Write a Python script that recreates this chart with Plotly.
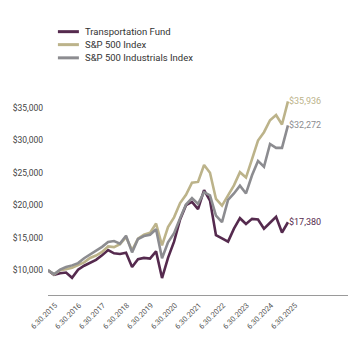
import pandas as pd
import plotly.graph_objects as go

# Quarter-end valuation dates, 6/30/2015 through 6/30/2025
quarter_ends = pd.date_range("2015-06-30", "2025-06-30", freq="QE").strftime("%Y-%m-%d").tolist()

# Growth of a $10,000 investment
transportation_fund = [
    10000, 9300, 9550, 9650, 8850, 10100, 10700, 11100, 11600, 12300,
    13100, 12600, 12500, 12700, 10500, 11700, 11900, 11800, 12900, 8800,
    11900, 14400, 17800, 20000, 20500, 19400, 22300, 20700, 15400, 14900,
    14400, 16400, 18000, 17100, 17900, 17800, 16400, 17300, 18200, 15800,
    17380,
]
sp500_index = [
    10000, 9360, 10020, 10150, 10400, 10800, 11210, 11890, 12260, 12810,
    13660, 13560, 14020, 15100, 13060, 14850, 15480, 15750, 17180, 13810,
    16640, 18130, 20330, 21590, 23440, 23570, 26170, 24970, 20950, 19930,
    21430, 23040, 25060, 24240, 27070, 29930, 31210, 33050, 33850, 32400,
    35936,
]
sp500_industrials = [
    10000, 9400, 10100, 10500, 10750, 11100, 11850, 12400, 13000, 13600,
    14350, 14500, 14100, 15300, 12750, 14800, 15250, 15450, 16300, 11850,
    14300, 15700, 18000, 20100, 21100, 20200, 22000, 21500, 18400, 17400,
    20800, 21800, 23000, 21800, 24600, 26800, 25900, 29400, 28800, 28800,
    32272,
]

tick_dates = [f"{y}-06-30" for y in range(2015, 2026)]
tick_labels = [f"6.30.{y}" for y in range(2015, 2026)]
y_ticks = [10000, 15000, 20000, 25000, 30000, 35000]

series = [
    ("Transportation Fund", transportation_fund, "#552a4e"),
    ("S&P 500 Index", sp500_index, "#bcb38a"),
    ("S&P 500 Industrials Index", sp500_industrials, "#8c8c90"),
]

FONT = "Roboto, sans-serif"

fig = go.Figure()
for name, values, color in series:
    fig.add_trace(go.Scatter(
        x=quarter_ends, y=values, mode="lines", name=name,
        line=dict(color=color, width=2.6), showlegend=False,
        hoverinfo="skip",
    ))
    # ending value label
    fig.add_annotation(
        x=quarter_ends[-1], y=values[-1], text=f"${values[-1]:,}",
        xanchor="left", yanchor="middle", showarrow=False, xshift=-1,
        font=dict(family=FONT, size=9, color=color),
    )

# legend drawn as short line samples with labels above the plot
legend_rows = [1.197, 1.138, 1.078]
for (name, _, color), yp in zip(series, legend_rows):
    fig.add_shape(type="line", xref="paper", yref="paper",
                  x0=0.033, x1=0.103, y0=yp, y1=yp,
                  line=dict(color=color, width=3))
    fig.add_annotation(xref="paper", yref="paper", x=0.118, y=yp,
                       text=name, showarrow=False, xanchor="left",
                       yanchor="middle",
                       font=dict(family=FONT, size=9.5, color="#333333"))

fig.update_layout(
    width=348, height=340,
    margin=dict(l=48, r=0, t=75, b=45),
    paper_bgcolor="white", plot_bgcolor="white",
    font=dict(family=FONT, color="#444444"),
    xaxis=dict(
        type="date", range=["2015-06-30", "2027-12-31"],
        tickvals=tick_dates, ticktext=tick_labels, tickangle=-45,
        showgrid=False, zeroline=False, showline=True,
        linecolor="#9a9a9a", linewidth=1, ticks="",
        ticklabelshift=7, ticklabelstandoff=2,
        tickfont=dict(family=FONT, size=7.5, color="#555555"),
    ),
    yaxis=dict(
        range=[6200, 40000], tickvals=y_ticks,
        ticktext=[f"${v:,}" for v in y_ticks],
        showgrid=False, zeroline=False, showline=False, ticks="",
        ticklabelstandoff=4,
        tickfont=dict(family=FONT, size=8.5, color="#444444"),
    ),
    showlegend=False,
)

fig.write_html("out.html")
